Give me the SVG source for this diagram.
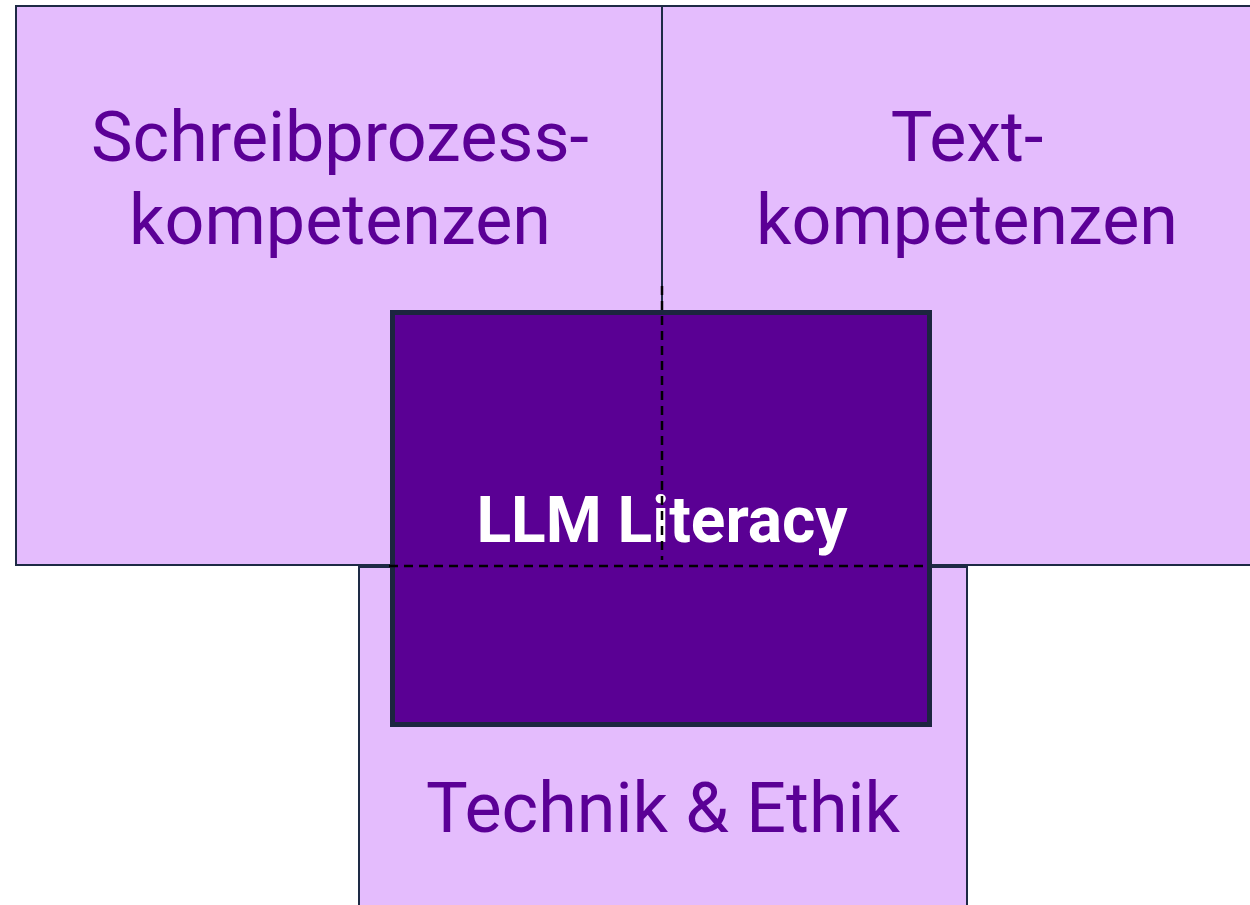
<svg xmlns="http://www.w3.org/2000/svg" width="1250" height="905" viewBox="0 0 1250 905">
<style>
.area{fill:#e4bcfd;stroke:#1e2a45;stroke-width:2}
.lbl{font-family:Roboto,"Liberation Sans",sans-serif;font-size:70px;fill:#5b0096;text-anchor:middle}
.core{fill:#5a0094;stroke:#1c2540;stroke-width:5}
.coretxt{font-family:Roboto,"Liberation Sans",sans-serif;font-size:64px;font-weight:bold;fill:#ffffff;text-anchor:middle}
.dash{stroke:#000;stroke-width:2.5;stroke-dasharray:9 6;fill:none}
</style>
<rect width="1250" height="905" fill="#ffffff"/>
<g id="schreibprozess">
<rect class="area" x="16" y="6" width="646" height="559"/>
<text class="lbl" x="340" y="161">Schreibprozess-</text>
<text class="lbl" x="340" y="244">kompetenzen</text>
</g>
<g id="text">
<rect class="area" x="662" y="6" width="620" height="559"/>
<text class="lbl" x="967" y="161">Text-</text>
<text class="lbl" x="967" y="244">kompetenzen</text>
</g>
<g id="technik">
<rect class="area" x="359" y="567" width="608" height="360"/>
<text class="lbl" x="663" y="832">Technik &amp; Ethik</text>
</g>
<g id="llm">
<rect class="core" x="392.500" y="312.500" width="537" height="412"/>
<text class="coretxt" x="662" y="542">LLM Literacy</text>
</g>
<g id="connectors">
<line class="dash" x1="662" y1="286" x2="662" y2="560"/>
<line class="dash" x1="389" y1="566" x2="926" y2="566"/>
</g>
</svg>
